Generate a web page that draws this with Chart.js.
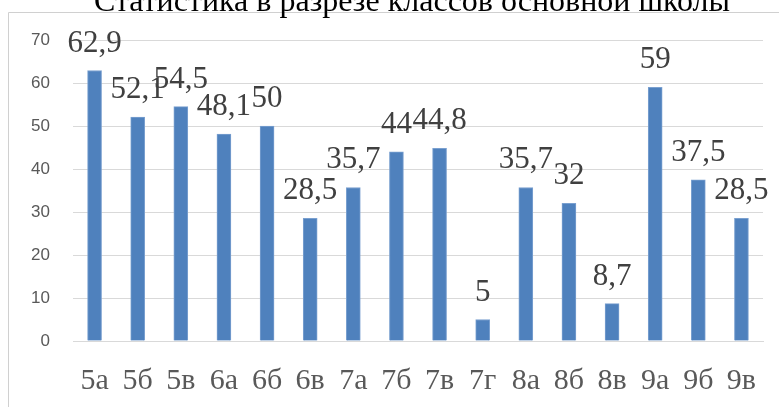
<!DOCTYPE html>
<html>
<head>
<meta charset="utf-8">
<script src="https://cdn.jsdelivr.net/npm/chart.js@4/dist/chart.umd.min.js"></script>
<style>
  html, body { margin: 0; padding: 0; background: #fff; }
  #wrap { width: 779px; height: 407px; position: relative; }
</style>
</head>
<body>
<div id="wrap"><canvas id="chart" width="779" height="407"></canvas></div>
<script>
const classes = ['5а', '5б', '5в', '6а', '6б', '6в', '7а', '7б', '7в', '7г', '8а', '8б', '8в', '9а', '9б', '9в'];
const values = [62.9, 52.1, 54.5, 48.1, 50, 28.5, 35.7, 44, 44.8, 5, 35.7, 32, 8.7, 59, 37.5, 28.5];
const yTicks = [0, 10, 20, 30, 40, 50, 60, 70];
const title = 'Статистика в разрезе классов основной школы';

const serif = '"Liberation Serif", "DejaVu Serif", serif';

// frame, cut-off title and value labels
const extras = {
  id: 'extras',
  beforeDraw(chart) {
    const ctx = chart.ctx;
    ctx.save();
    ctx.fillStyle = '#fff';
    ctx.fillRect(0, 0, chart.width, chart.height);
    ctx.strokeStyle = '#d0d0d0';
    ctx.lineWidth = 1;
    ctx.beginPath();
    ctx.moveTo(8.5, chart.height);
    ctx.lineTo(8.5, 12.5);
    ctx.lineTo(chart.width, 12.5);
    ctx.stroke();
    ctx.fillStyle = '#000';
    ctx.font = '32px ' + serif;
    ctx.textAlign = 'center';
    ctx.textBaseline = 'alphabetic';
    ctx.fillText(title, 412, 11);
    ctx.restore();
  },
  afterDatasetsDraw(chart) {
    const ctx = chart.ctx;
    const meta = chart.getDatasetMeta(0);
    ctx.save();
    ctx.fillStyle = '#404040';
    ctx.font = '31px ' + serif;
    ctx.textAlign = 'center';
    ctx.textBaseline = 'alphabetic';
    meta.data.forEach((bar, i) => {
      ctx.fillText(String(values[i]).replace('.', ','), bar.x, bar.y - 19);
    });
    ctx.restore();
  }
};

new Chart(document.getElementById('chart'), {
  type: 'bar',
  data: {
    labels: classes,
    datasets: [{
      data: values,
      backgroundColor: '#4f81bd',
      borderColor: '#7aa0d0',
      borderWidth: 1,
      barThickness: 14,
    }],
  },
  options: {
    responsive: false,
    animation: false,
    layout: { padding: { top: 40, right: 16, bottom: 0, left: 0 } },
    plugins: { legend: { display: false }, tooltip: { enabled: false } },
    scales: {
      x: {
        grid: { display: false, drawTicks: false },
        border: { color: '#d9d9d9' },
        ticks: { color: '#595959', font: { family: serif, size: 30 }, padding: 22, maxRotation: 0, autoSkip: false },
        afterFit(scale) { scale.height = 66; },
      },
      y: {
        min: 0,
        max: 70,
        afterBuildTicks(scale) { scale.ticks = yTicks.map(v => ({ value: v })); },
        grid: { color: '#d9d9d9', drawTicks: false },
        border: { display: false },
        ticks: { color: '#595959', font: { family: '"Liberation Sans", Arial, sans-serif', size: 17 }, padding: 23 },
        afterFit(scale) { scale.width = 73; },
      },
    },
  },
  plugins: [extras],
});
</script>
</body>
</html>
